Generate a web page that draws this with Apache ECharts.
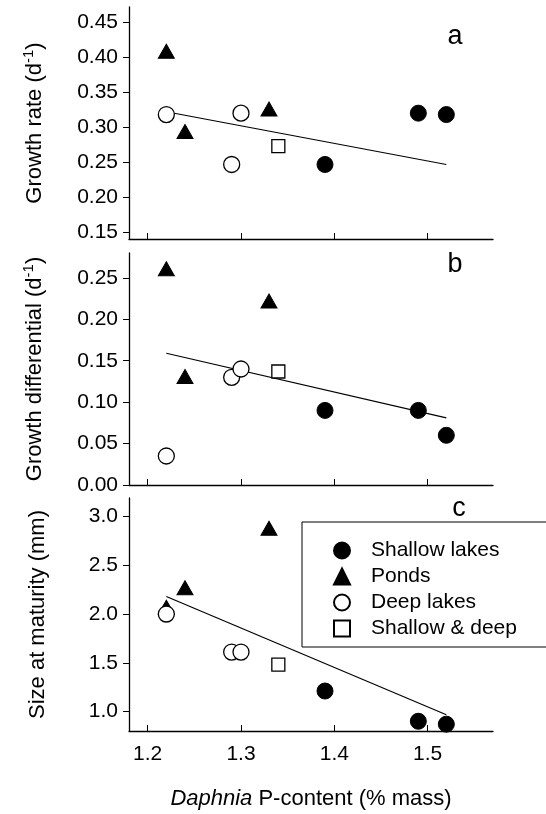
<!DOCTYPE html>
<html>
<head>
<meta charset="utf-8">
<script src="https://cdn.jsdelivr.net/npm/echarts@6/dist/echarts.min.js"></script>
<style>
html,body{margin:0;padding:0;background:#fff;}
#box{width:546px;height:814px;}
</style>
</head>
<body>
<div id="box"></div>
<script>
// P-content (% mass) per lake type
var xShallow = [1.39, 1.49, 1.52];
var xPonds = [1.22, 1.24, 1.33];
var xDeep = [1.22, 1.29, 1.30];
var xMixed = [1.34];

// a: growth rate
var growShallow = [0.247, 0.320, 0.318];
var growPonds = [0.408, 0.294, 0.326];
var growDeep = [0.318, 0.247, 0.320];
var growMixed = [0.273];

// b: growth differential
var diffShallow = [0.090, 0.090, 0.060];
var diffPonds = [0.261, 0.131, 0.222];
var diffDeep = [0.035, 0.130, 0.140];
var diffMixed = [0.137];

// c: size at maturity
var sizeShallow = [1.21, 0.90, 0.87];
var sizePonds = [2.07, 2.27, 2.88];
var sizeDeep = [2.00, 1.61, 1.61];
var sizeMixed = [1.48];

// regression lines
var fitX = [1.22, 1.52];
var fitGrow = [0.322, 0.247];
var fitDiff = [0.159, 0.081];
var fitSize = [2.18, 0.966];

var xTicks = [1.2, 1.3, 1.4, 1.5];
var growTicks = [0.15, 0.20, 0.25, 0.30, 0.35, 0.40, 0.45];
var diffTicks = [0.00, 0.05, 0.10, 0.15, 0.20, 0.25];
var sizeTicks = [1.0, 1.5, 2.0, 2.5, 3.0];

var groups = ['Shallow lakes', 'Ponds', 'Deep lakes', 'Shallow & deep'];

var font = 'Liberation Sans, Arial, sans-serif';

function pairs(xs, ys){
	var out = [];
	for(var i = 0; i < xs.length; i++){
		out.push([xs[i], ys[i]]);
	}
	return out;
}

var looks = {
	'Shallow lakes': {symbol: 'circle', symbolSize: 16, itemStyle: {color: '#000', borderColor: '#000', borderWidth: 1, opacity: 1}},
	'Ponds': {symbol: 'triangle', symbolSize: [16, 14], itemStyle: {color: '#000', borderColor: '#000', borderWidth: 1, opacity: 1}},
	'Deep lakes': {symbol: 'circle', symbolSize: 16, itemStyle: {color: '#fff', borderColor: '#000', borderWidth: 1.3, opacity: 1}},
	'Shallow & deep': {symbol: 'rect', symbolSize: 13, itemStyle: {color: '#fff', borderColor: '#000', borderWidth: 1.3, opacity: 1}}
};

var panels = [
	{ys: [growShallow, growPonds, growDeep, growMixed], fit: fitGrow},
	{ys: [diffShallow, diffPonds, diffDeep, diffMixed], fit: fitDiff},
	{ys: [sizeShallow, sizePonds, sizeDeep, sizeMixed], fit: fitSize}
];
var xLists = [xShallow, xPonds, xDeep, xMixed];

var series = [];
for(var p = 0; p < panels.length; p++){
	series.push({
		name: 'fit',
		type: 'line',
		xAxisIndex: p,
		yAxisIndex: p,
		data: pairs(fitX, panels[p].fit),
		symbol: 'none',
		lineStyle: {color: '#000', width: 1.2},
		silent: true,
		z: 1
	});
	for(var g = 0; g < groups.length; g++){
		series.push({
			name: groups[g],
			type: 'scatter',
			xAxisIndex: p,
			yAxisIndex: p,
			data: pairs(xLists[g], panels[p].ys[g]),
			symbol: looks[groups[g]].symbol,
			symbolSize: looks[groups[g]].symbolSize,
			itemStyle: looks[groups[g]].itemStyle,
			z: 3 + g
		});
	}
}

var axisLine = {lineStyle: {color: '#000', width: 1.3}};

function xAxisFor(i, last){
	return {
		type: 'value',
		gridIndex: i,
		min: 1.18,
		max: 1.57,
		axisLine: axisLine,
		axisTick: {show: true, inside: true, length: 6, customValues: xTicks, lineStyle: {color: '#000', width: 1}},
		axisLabel: {show: last, customValues: xTicks, margin: 13, color: '#000', fontSize: 21, fontFamily: font,
			formatter: function(v){ return v.toFixed(1); }},
		splitLine: {show: false},
		name: last ? '{i|Daphnia} P-content (% mass)' : '',
		nameLocation: 'middle',
		nameGap: 57,
		nameTextStyle: {color: '#000', fontSize: 22, fontFamily: font,
			rich: {i: {fontStyle: 'italic', fontSize: 22, fontFamily: font, color: '#000'}}}
	};
}

function yAxisFor(i, lo, hi, ticks, digits, title){
	return {
		type: 'value',
		gridIndex: i,
		min: lo,
		max: hi,
		axisLine: {show: true, lineStyle: {color: '#000', width: 1.3}},
		axisTick: {show: true, length: 6, customValues: ticks, lineStyle: {color: '#000', width: 1}},
		axisLabel: {customValues: ticks, margin: 11, color: '#000', fontSize: 21, fontFamily: font,
			formatter: function(v){ return v.toFixed(digits); }},
		splitLine: {show: false},
		name: title,
		nameLocation: 'middle',
		nameGap: 80,
		nameTextStyle: {color: '#000', fontSize: 22, fontFamily: font,
			rich: {sup: {fontSize: 15, fontFamily: font, color: '#000', padding: [0, 0, 13, 0]}}}
	};
}

var mychar = echarts.init(document.getElementById('box'));
var option = {
	animation: false,
	backgroundColor: '#fff',
	grid: [
		{left: 129, width: 364, top: 7, height: 232},
		{left: 129, width: 364, top: 253, height: 232},
		{left: 129, width: 364, top: 498, height: 233}
	],
	xAxis: [xAxisFor(0, false), xAxisFor(1, false), xAxisFor(2, true)],
	yAxis: [
		yAxisFor(0, 0.141, 0.471, growTicks, 2, 'Growth rate (d{sup|-1})'),
		yAxisFor(1, 0, 0.28, diffTicks, 2, 'Growth differential (d{sup|-1})'),
		yAxisFor(2, 0.8, 3.19, sizeTicks, 1, 'Size at maturity (mm)')
	],
	legend: {
		data: groups,
		orient: 'vertical',
		left: 328,
		top: 535,
		itemWidth: 16,
		itemHeight: 16,
		itemGap: 5,
		textStyle: {color: '#000', fontSize: 21, fontFamily: font, padding: [0, 0, 0, 16]},
		selectedMode: false
	},
	graphic: [
		{type: 'rect', shape: {x: 302, y: 522, width: 320, height: 125}, style: {fill: 'none', stroke: '#000', lineWidth: 1}, silent: true},
		{type: 'text', x: 455, y: 37, style: {text: 'a', fontSize: 27, fontFamily: font, fill: '#000', align: 'center', verticalAlign: 'middle'}},
		{type: 'text', x: 455, y: 265, style: {text: 'b', fontSize: 27, fontFamily: font, fill: '#000', align: 'center', verticalAlign: 'middle'}},
		{type: 'text', x: 459, y: 509, style: {text: 'c', fontSize: 27, fontFamily: font, fill: '#000', align: 'center', verticalAlign: 'middle'}}
	],
	series: series
};
mychar.setOption(option);
</script>
</body>
</html>
